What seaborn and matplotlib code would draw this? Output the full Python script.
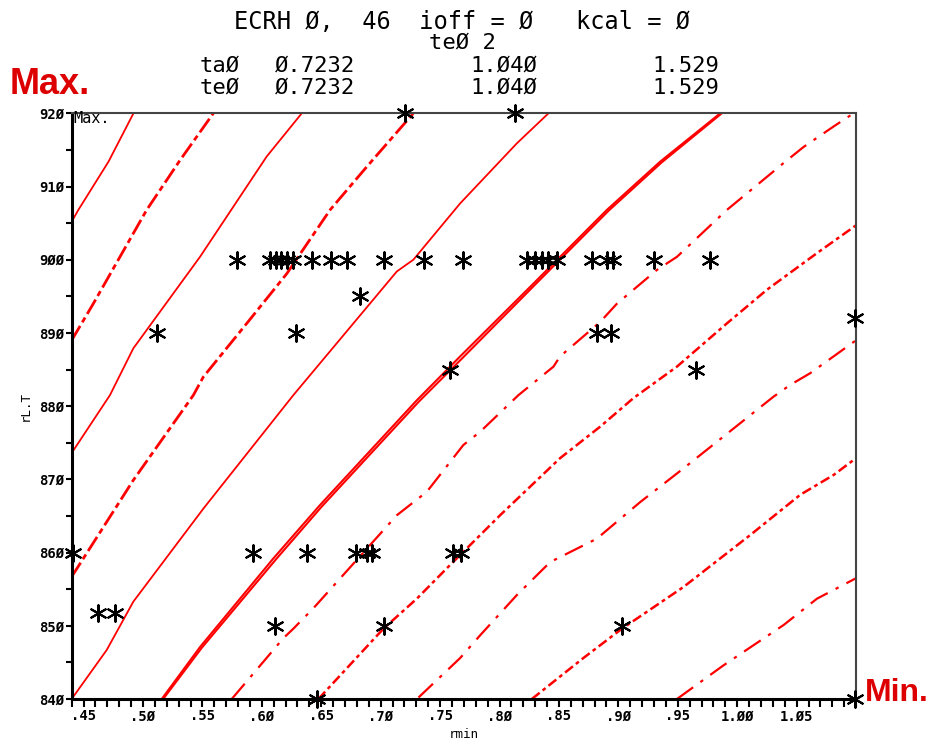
import numpy as np
import matplotlib
matplotlib.use("Agg")
import matplotlib.pyplot as plt
import seaborn as sns

# contour lines, solid
s1_x = [0.440, 0.4456, 0.471, 0.492]
s1_y = [905.2, 906.8, 913.4, 920.0]
s2_x = [0.440, 0.4722, 0.4919, 0.548, 0.6041, 0.6336]
s2_y = [873.6, 881.5, 887.9, 900.4, 914.1, 920.0]
s3_x = [0.440, 0.4695, 0.4919, 0.5508, 0.6265, 0.7136, 0.7275, 0.7669, 0.8146, 0.8412]
s3_y = [840.0, 846.7, 853.3, 866.0, 881.5, 898.4, 900.0, 907.7, 915.9, 920.0]
s4_x = [0.5158, 0.548, 0.6097, 0.649, 0.7304, 0.7669, 0.8258, 0.8903, 0.9352, 0.9857]
s4_y = [840.0, 847.1, 859.2, 866.5, 880.8, 886.8, 896.3, 906.8, 913.4, 920.0]
s4b_x = [0.5170, 0.5495, 0.6115, 0.6505, 0.7320, 0.7690, 0.8275, 0.8918, 0.9365, 0.9870]
s4b_y = [840.0, 847.0, 859.0, 866.3, 880.6, 886.6, 896.2, 906.7, 913.3, 920.0]

# contour lines, dashed
d1_x = [0.440, 0.4582, 0.5031, 0.5312, 0.5592]
d1_y = [889.0, 894.0, 906.8, 913.6, 920.0]
d2_x = [0.440, 0.475, 0.4919, 0.5424, 0.5508, 0.5873, 0.621, 0.6574, 0.6883, 0.7275]
d2_y = [856.7, 865.6, 869.9, 881.5, 884.0, 891.3, 898.1, 906.8, 912.7, 920.0]
d3_x = [0.5747, 0.6181, 0.6265, 0.6434, 0.7136, 0.7388, 0.7696, 0.7837, 0.8159, 0.8454,
        0.851, 0.8847, 0.8988, 0.9324, 0.9493, 0.9913, 1.039, 1.0558, 1.0811, 1.0979]
d3_y = [840.0, 848.3, 849.6, 852.4, 865.1, 868.3, 874.7, 876.5, 881.5, 885.4,
        886.8, 891.5, 894.0, 898.6, 900.4, 906.8, 913.2, 915.4, 918.2, 920.0]
d4_x = [0.6476, 0.6715, 0.7023, 0.7304, 0.7584, 0.8005, 0.851, 0.8847, 0.9127, 0.9493,
        0.9913, 1.025, 1.0671, 1.10]
d4_y = [840.0, 844.2, 849.6, 853.7, 858.3, 865.1, 872.9, 877.2, 881.1, 885.4,
        891.3, 895.9, 900.9, 904.7]
d5_x = [0.7318, 0.7669, 0.7837, 0.8146, 0.8426, 0.8819, 0.9184, 0.9548, 1.0306, 1.0446, 1.0614, 1.10]
d5_y = [840.2, 845.6, 848.7, 854.2, 858.7, 861.9, 866.9, 871.5, 881.3, 882.9, 884.5, 889.0]
d6_x = [0.8272, 0.8706, 0.903, 0.9548, 1.011, 1.0531, 1.0811, 1.10]
d6_y = [840.0, 845.6, 849.6, 855.3, 862.4, 867.9, 870.6, 872.9]
d7_x = [0.9493, 0.9885, 1.039, 1.0671, 1.10]
d7_y = [840.0, 844.6, 850.1, 853.7, 856.5]

# measured points
pts_x = [0.7206, 0.8131,
         0.5794, 0.6069, 0.6119, 0.6161, 0.6212, 0.6262, 0.642, 0.6583, 0.6715, 0.7029,
         0.7366, 0.7696, 0.823, 0.8299, 0.8356, 0.8412, 0.8483, 0.8777, 0.8903, 0.8959,
         0.9296, 0.9767,
         0.6827,
         0.512, 0.6288, 0.8818, 0.8937,
         0.7584, 0.9653,
         1.099,
         0.4408, 0.5929, 0.6378, 0.6793, 0.6883, 0.6925, 0.761, 0.768,
         0.4624, 0.4764,
         0.6112, 0.7029, 0.903,
         0.6462, 1.099]
pts_y = [920, 920,
         900, 900, 900, 900, 900, 900, 900, 900, 900, 900,
         900, 900, 900, 900, 900, 900, 900, 900, 900, 900,
         900, 900,
         895,
         890, 890, 890, 890,
         885, 885,
         892,
         860, 860, 860, 860, 860, 860, 860, 860,
         851.8, 851.8,
         850, 850, 850,
         840, 840]

xticks = [0.45, 0.50, 0.55, 0.60, 0.65, 0.70, 0.75, 0.80, 0.85, 0.90, 0.95, 1.00, 1.05]
xlabels = [".45", ".5Ø", ".55", ".6Ø", ".65", ".7Ø", ".75", ".8Ø", ".85", ".9Ø", ".95", "1.ØØ", "1.Ø5"]
yticks = [840, 850, 860, 870, 880, 890, 900, 910, 920]
ylabels = ["84Ø", "85Ø", "86Ø", "87Ø", "88Ø", "89Ø", "9ØØ", "91Ø", "92Ø"]

sns.set_style("white")
plt.rcParams['font.family'] = ['DejaVu Sans Mono', 'DejaVu Sans']
plt.rcParams['text.color'] = 'black'
plt.rcParams['axes.labelcolor'] = 'black'
plt.rcParams['xtick.color'] = 'black'
plt.rcParams['ytick.color'] = 'black'

fig = plt.figure(figsize=(9.32, 7.46), dpi=100)
ax = fig.add_axes([0.0769, 0.063, 0.8416, 0.7851])

red = "#ff0000"
for xs, ys in [(s1_x, s1_y), (s2_x, s2_y), (s3_x, s3_y)]:
    sns.lineplot(x=xs, y=ys, sort=False, estimator=None, color=red, lw=1.3, ax=ax)
for xs, ys in [(s4_x, s4_y), (s4b_x, s4b_y)]:
    sns.lineplot(x=xs, y=ys, sort=False, estimator=None, color=red, lw=1.5, ax=ax)
for xs, ys in [(d1_x, d1_y), (d2_x, d2_y)]:
    sns.lineplot(x=xs, y=ys, sort=False, estimator=None, color=red, lw=2.0,
                 linestyle=(0, (6, 1.5, 2, 1.5)), ax=ax)
for xs, ys in [(d3_x, d3_y), (d5_x, d5_y), (d7_x, d7_y)]:
    sns.lineplot(x=xs, y=ys, sort=False, estimator=None, color=red, lw=1.6,
                 linestyle=(0, (9, 4, 1.5, 4)), ax=ax)
for xs, ys in [(d4_x, d4_y), (d6_x, d6_y)]:
    sns.lineplot(x=xs, y=ys, sort=False, estimator=None, color=red, lw=1.8,
                 linestyle=(0, (4, 1.5, 1.5, 1.5)), ax=ax)

sns.scatterplot(x=pts_x, y=pts_y, marker=(6, 2, 0), s=140, color="black",
                linewidth=1.5, clip_on=False, zorder=5, ax=ax)

ax.set_xlim(0.44, 1.10)
ax.set_ylim(840, 920)
ax.set_xticks(xticks)
ax.set_xticklabels(xlabels, fontsize=10, fontweight="bold")
ax.set_xticks(np.arange(0.44, 1.1001, 0.01), minor=True)
ax.set_yticks(yticks)
ax.set_yticklabels(ylabels, fontsize=10, fontweight="bold")
ax.set_yticks(np.arange(845, 920, 10), minor=True)
ax.tick_params(axis="x", which="both", direction="out", length=5.5, width=1.5, pad=2, bottom=True)
ax.tick_params(axis="y", which="both", direction="out", length=4, width=1.5, pad=1, left=True)
ax.set_xlabel("rmin", fontsize=9, labelpad=3)
ax.set_ylabel("rL.T", fontsize=9, labelpad=6)

for side in ["left", "bottom"]:
    ax.spines[side].set_linewidth(2.2)
    ax.spines[side].set_color("black")
for side in ["top", "right"]:
    ax.spines[side].set_linewidth(1.5)
    ax.spines[side].set_color("#444444")

ax.text(0.4412, 919.3, "Max.", fontsize=11, va="center", ha="left")

# header text
fig.text(462 / 932, 1 - 22 / 746, "ECRH Ø,  46  ioff = Ø   kcal = Ø", fontsize=17,
         ha="center", va="center")
fig.text(462 / 932, 1 - 43 / 746, "teØ 2", fontsize=16, ha="center", va="center")
for row_y, tag in [(66, "taØ"), (88, "teØ")]:
    fig.text(200 / 932, 1 - row_y / 746, tag, fontsize=16, ha="left", va="center")
    fig.text(275 / 932, 1 - row_y / 746, "Ø.7232", fontsize=16, ha="left", va="center")
    fig.text(470 / 932, 1 - row_y / 746, "1.Ø4Ø", fontsize=16, ha="left", va="center")
    fig.text(652 / 932, 1 - row_y / 746, "1.529", fontsize=16, ha="left", va="center")

fig.text(10 / 932, 1 - 85 / 746, "Max.", fontsize=26, fontweight="bold", color="#dd0000",
         family="Liberation Sans", ha="left", va="center")
fig.text(865 / 932, 1 - 693 / 746, "Min.", fontsize=23, fontweight="bold", color="#dd0000",
         family="Liberation Sans", ha="left", va="center")

fig.savefig("out.png", dpi=100)
